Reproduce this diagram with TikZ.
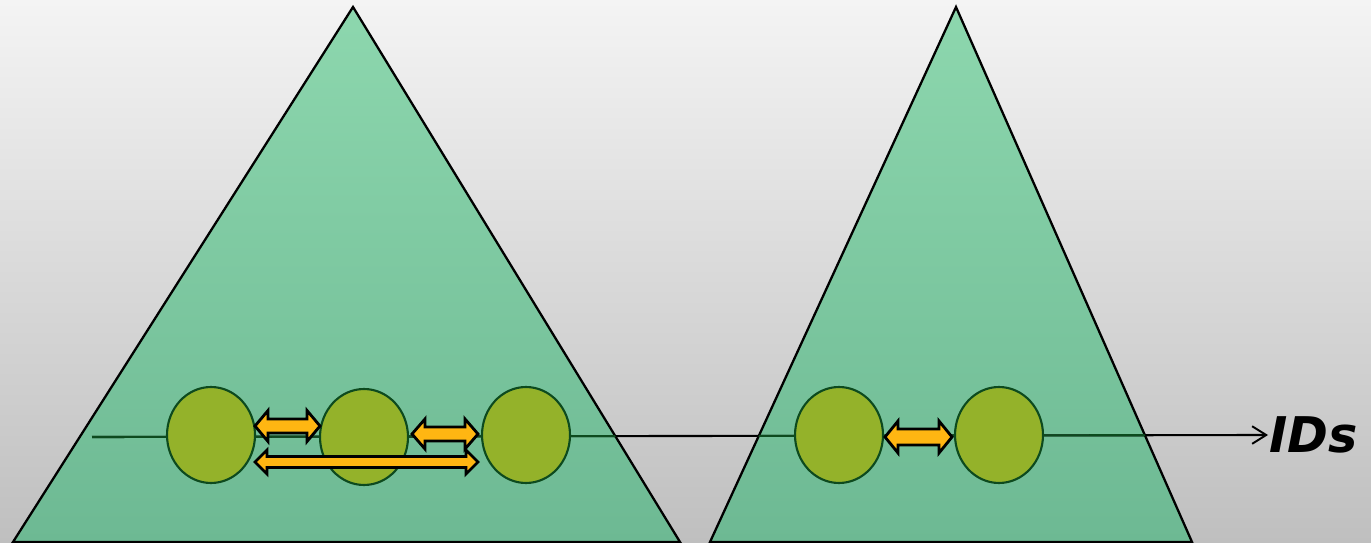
\documentclass[tikz,border=0pt]{standalone}
\usepackage{fontspec}
\newfontfamily\idsfont{DejaVu Sans}
\usetikzlibrary{shapes.geometric,arrows.meta}
\definecolor{bgtop}{HTML}{F4F4F4}
\definecolor{bgbot}{HTML}{BFBFBF}
\definecolor{tritop}{HTML}{8DD7AE}
\definecolor{tribot}{HTML}{6DB993}
\definecolor{ballfill}{HTML}{94B22A}
\definecolor{ballline}{HTML}{0D4A1E}
\definecolor{arrfill}{HTML}{FFB612}
\tikzset{
  tri/.style={top color=tritop,bottom color=tribot,draw=black,line width=1.3pt,line join=miter},
  ball/.style={ellipse,draw=ballline,fill=ballfill,line width=1.2pt,minimum width=1.76cm,minimum height=1.92cm,inner sep=0pt},
  fatarrow/.style={draw=black,fill=arrfill,line width=1.6pt,line join=miter},
  idline/.style={line width=1.2pt,black},
}
\newcommand\fatarr[6]{%
  \draw[fatarrow] (#1,#3) -- (#1+#6,#3-#5) -- (#1+#6,#3-#4) -- (#2-#6,#3-#4) -- (#2-#6,#3-#5) -- (#2,#3)
   -- (#2-#6,#3+#5) -- (#2-#6,#3+#4) -- (#1+#6,#3+#4) -- (#1+#6,#3+#5) -- cycle;}
\begin{document}
\begin{tikzpicture}[x=0.02cm,y=-0.02cm]
\useasboundingbox (0,0) rectangle (1371,543);
\shade[top color=bgtop,bottom color=bgbot] (0,0) rectangle (1371,543);
% triangles
\path[tri] (353,7) -- (680,542) -- (13,542) -- cycle;
\path[tri] (956,7) -- (1192,542) -- (710,542) -- cycle;
% ID line
\coordinate (s) at (92,437);
\coordinate (e) at (1268,435);
\draw[idline,-{Straight Barb[length=8pt,width=10pt,line width=1.1pt]}] (s) -- (e);
\begin{scope}
  \clip (353,7) -- (680,542) -- (13,542) -- cycle (956,7) -- (1192,542) -- (710,542) -- cycle;
  \draw[line width=1.2pt,ballline] (s) -- (e);
\end{scope}
% balls
\node[ball] (c1) at (211,435) {};
\node[ball] (c2) at (364,437) {};
\node[ball] (c3) at (526,435) {};
\node[ball] (c4) at (839,435) {};
\node[ball] (c5) at (999,435) {};
% double block arrows
\fatarr{255}{320}{426}{7}{15.5}{13}
\fatarr{412}{478}{434}{7}{15}{13}
\fatarr{255}{478}{462}{5.5}{12}{12}
\fatarr{885}{952}{437}{8}{16}{13}
% label
\node[anchor=west,inner sep=0pt,font=\idsfont\bfseries\itshape\fontsize{28}{32}\selectfont] (ids) at ([xshift=0.5pt]e) {IDs};
\end{tikzpicture}
\end{document}
